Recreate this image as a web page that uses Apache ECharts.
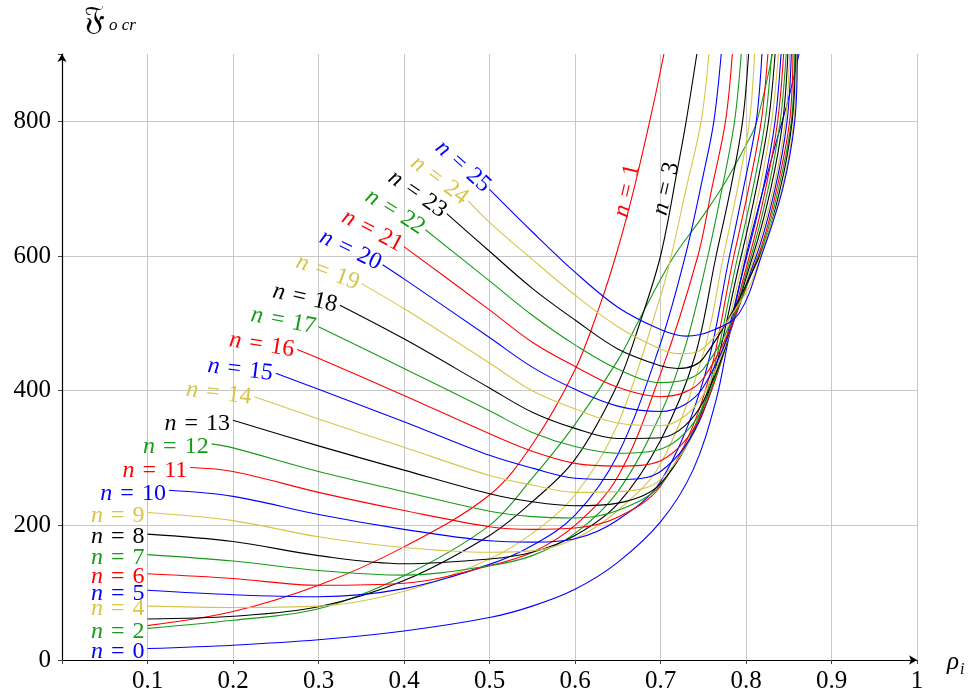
<!DOCTYPE html>
<html><head><meta charset="utf-8">
<script src="https://cdn.jsdelivr.net/npm/echarts@6/dist/echarts.min.js"></script>
<style>html,body{margin:0;padding:0;background:#fff}#c{width:976px;height:699px}</style>
</head><body><div id="c"></div>
<script>
// ---- data: [rho_i, F_ocr] pairs, one array per mode n ----
const n0  = [[0.1,17],[0.2,22],[0.3,30],[0.4,43],[0.5,63],[0.55,80],[0.6,105],[0.65,145],[0.7,205],[0.738,282],[0.765,386],[0.78,480],[0.8,600],[0.83,745],[0.85,835],[0.862,900]];
const n1  = [[0.1,51],[0.2,72],[0.3,111],[0.4,168],[0.5,245],[0.55,320],[0.6,431],[0.63,530],[0.65,610],[0.67,705],[0.69,815],[0.704,900]];
const n2  = [[0.1,47],[0.2,59],[0.3,76],[0.4,125],[0.5,200],[0.55,270],[0.6,350],[0.65,445],[0.675,505],[0.7,565],[0.718,604],[0.75,660],[0.775,708],[0.8,765],[0.812,797],[0.831,900]];
const n3  = [[0.1,61],[0.2,65],[0.3,79],[0.4,118],[0.5,185],[0.55,235],[0.6,298],[0.65,410],[0.677,505],[0.7,600],[0.72,730],[0.73,800],[0.7425,900]];
const n4  = [[0.1,80],[0.2,78],[0.3,80],[0.4,102],[0.5,150],[0.55,188],[0.6,245],[0.65,350],[0.7,540],[0.7125,600],[0.73,700],[0.7475,800],[0.7566,900]];
const n5  = [[0.1,103.5],[0.2,97],[0.3,94],[0.4,106],[0.5,142],[0.55,170],[0.6,215],[0.65,305],[0.7,470],[0.729,600],[0.75,720],[0.7624,800],[0.771,900]];
const n6  = [[0.1,128],[0.2,121],[0.3,111],[0.4,114],[0.5,140],[0.55,160],[0.6,200],[0.65,272],[0.7,425],[0.7437,600],[0.76,700],[0.776,800],[0.784,900]];
const n7  = [[0.1,156.5],[0.2,147],[0.3,133],[0.4,126],[0.5,140],[0.55,155],[0.6,188],[0.65,250],[0.7,365],[0.73,470],[0.7554,600],[0.772,700],[0.7866,800],[0.7944,900]];
const n8  = [[0.1,187],[0.2,176],[0.3,155],[0.4,143],[0.5,150],[0.55,160],[0.6,185],[0.65,232],[0.7,326],[0.74,450],[0.765,600],[0.782,700],[0.796,800],[0.803,900]];
const n9  = [[0.1,219],[0.2,207],[0.3,183],[0.4,167],[0.5,160],[0.55,162],[0.6,180],[0.65,222],[0.7,291],[0.75,455],[0.7737,600],[0.79,700],[0.804,800],[0.81,900]];
const n10 = [[0.125,252],[0.2,243],[0.3,216],[0.4,194],[0.5,177],[0.55,175],[0.6,180],[0.65,208],[0.7,265],[0.75,415],[0.7807,600],[0.797,700],[0.812,800],[0.8186,900]];
const n11 = [[0.15,286],[0.2,280],[0.3,249],[0.4,222],[0.5,198],[0.55,194],[0.6,196],[0.65,212],[0.7,258],[0.75,390],[0.7858,600],[0.803,700],[0.8178,800],[0.8256,900]];
const n12 = [[0.175,321],[0.2,315],[0.3,280],[0.4,250],[0.5,221],[0.55,213],[0.6,211],[0.65,222],[0.7,260],[0.75,380],[0.7905,600],[0.808,700],[0.8224,800],[0.83,900]];
const n13 = [[0.2,356],[0.3,318],[0.4,282],[0.5,247],[0.55,235],[0.6,229],[0.65,233],[0.7,262],[0.75,374],[0.7944,600],[0.812,700],[0.8263,800],[0.834,900]];
const n14 = [[0.225,391],[0.3,358],[0.4,316],[0.5,274],[0.55,260],[0.6,249],[0.65,250],[0.7,268],[0.75,370],[0.798,600],[0.816,700],[0.83,800],[0.838,900]];
const n15 = [[0.25,426],[0.3,402],[0.4,354],[0.5,304],[0.55,285],[0.6,270],[0.65,268],[0.7,280],[0.75,368],[0.801,600],[0.82,700],[0.834,800],[0.841,900]];
const n16 = [[0.275,461],[0.3,448],[0.4,393],[0.5,336],[0.55,310],[0.6,292],[0.65,288],[0.7,296],[0.75,370],[0.804,600],[0.823,700],[0.837,800],[0.844,900]];
const n17 = [[0.3,495],[0.4,433],[0.5,370],[0.55,338],[0.6,317],[0.65,307],[0.7,313],[0.75,376],[0.806,600],[0.826,700],[0.84,800],[0.847,900]];
const n18 = [[0.325,527],[0.4,477],[0.5,404],[0.55,368],[0.6,344],[0.65,329],[0.7,330],[0.75,384],[0.808,600],[0.829,700],[0.843,800],[0.849,900]];
const n19 = [[0.35,559],[0.4,522],[0.5,441],[0.55,400],[0.6,373],[0.65,352],[0.7,348],[0.75,394],[0.81,600],[0.832,700],[0.846,800],[0.851,900]];
const n20 = [[0.375,587],[0.4,566],[0.5,479],[0.55,435],[0.6,402],[0.65,377],[0.7,369],[0.75,405],[0.812,600],[0.834,700],[0.848,800],[0.853,900]];
const n21 = [[0.4,614],[0.5,520],[0.55,472],[0.6,436],[0.65,405],[0.7,391],[0.75,418],[0.814,600],[0.836,700],[0.851,800],[0.855,900]];
const n22 = [[0.425,639],[0.5,563],[0.55,512],[0.6,468],[0.65,432],[0.7,412],[0.75,432],[0.815,600],[0.838,700],[0.853,800],[0.857,900]];
const n23 = [[0.45,663],[0.5,607],[0.55,552],[0.6,505],[0.65,462],[0.7,437],[0.72,433],[0.75,448],[0.816,600],[0.84,700],[0.854,800],[0.858,900]];
const n24 = [[0.475,682],[0.5,650],[0.55,595],[0.6,542],[0.65,495],[0.7,462],[0.722,455],[0.75,463],[0.8,545],[0.817,600],[0.842,700],[0.856,800],[0.859,900]];
const n25 = [[0.5,699],[0.55,636],[0.6,576],[0.65,524],[0.7,491],[0.73,481],[0.76,489],[0.792,515],[0.818,600],[0.843,700],[0.857,800],[0.86,900]];

const curves = [n0,n1,n2,n3,n4,n5,n6,n7,n8,n9,n10,n11,n12,n13,n14,n15,n16,n17,n18,n19,n20,n21,n22,n23,n24,n25];

// ---- styling ----
const palette = ['#0000ff','#ff0000','#169b16','#000000','#d8c548'];
const labelTilt = {14:7,15:7,16:9,17:11,18:13,19:20,20:26,21:28,22:32,23:35,24:37,25:42}; // degrees, clockwise
const sideLabels = {1:{at:[0.661,697],rot:77}, 3:{at:[0.7067,700],rot:77}}; // labels beside steep curves
const FONT = "'Liberation Serif','Times New Roman',serif";
const LABEL_SIZE = 24;

const chart = echarts.init(document.getElementById('c'), null, {renderer:'canvas'});

const series = curves.map((c,n)=>({
  type:'line', name:'n = '+n, data:c, showSymbol:false, symbol:'none',
  smooth:0.35, clip:true, animation:false,
  lineStyle:{color:palette[n%5], width:1.1}, z: 2
}));

chart.setOption({
  animation:false,
  backgroundColor:'#fff',
  grid:{left:62, right:59, top:54, bottom:39, containLabel:false},
  xAxis:{type:'value', min:0, max:1, interval:0.1,
    axisLine:{show:true, onZero:false, symbol:['none','arrow'], symbolSize:[7,8], lineStyle:{color:'#000', width:1.2}},
    axisTick:{show:true, length:4, lineStyle:{color:'#444'}},
    axisLabel:{margin:9, color:'#000', fontFamily:FONT, fontSize:25,
      formatter:v=> (Math.abs(v)<1e-9 ? '' : (Math.abs(v-1)<1e-9 ? '1' : (+v).toFixed(1)))},
    splitLine:{show:true, showMinLine:false, lineStyle:{color:'#c8c8c8', width:1}}
  },
  yAxis:{type:'value', min:0, max:900, interval:200,
    axisLine:{show:true, onZero:false, symbol:['none','arrow'], symbolSize:[7,8], lineStyle:{color:'#000', width:1.2}},
    axisTick:{show:true, length:4, lineStyle:{color:'#444'}},
    axisLabel:{margin:11, color:'#000', fontFamily:FONT, fontSize:25,
      formatter:v=> (v>850 ? '' : String(Math.round(v)))},
    splitLine:{show:true, showMinLine:false, showMaxLine:false, lineStyle:{color:'#c8c8c8', width:1}}
  },
  series: series
});

// ---- curve labels placed from the library's own coordinate conversion ----
const els = [];
curves.forEach((c,n)=>{
  const col = palette[n%5];
  const rich = {i:{fontStyle:'italic', fontFamily:FONT, fontSize:LABEL_SIZE, fill:col}, r:{fontFamily:FONT, fontSize:LABEL_SIZE, fill:col}};
  const txt = '{i|n}{r|\u2004=\u2004'+n+'}';
  if (sideLabels[n]) {
    const s = sideLabels[n];
    const p = chart.convertToPixel({gridIndex:0}, s.at);
    els.push({type:'text', x:p[0], y:p[1], rotation:s.rot*Math.PI/180, z:10,
      style:{text:txt, rich:rich, align:'center', verticalAlign:'middle', fill:col, fontFamily:FONT, fontSize:LABEL_SIZE}});
    return;
  }
  const p = chart.convertToPixel({gridIndex:0}, c[0]);
  const a = (labelTilt[n]||0)*Math.PI/180;
  els.push({type:'text', x:p[0]-3*Math.cos(a), y:p[1]-3*Math.sin(a)+(a===0?3:1), rotation:-a, z:10,
    style:{text:txt, rich:rich, align:'right', verticalAlign:'middle', fill:col, fontFamily:FONT, fontSize:LABEL_SIZE}});
});
// axis titles
els.push({type:'text', x:84, y:20, z:10, style:{text:'\uD835\uDD09', fill:'#000', fontFamily:"'DejaVu Serif','DejaVu Sans','Noto Sans',serif", fontSize:33, align:'left', verticalAlign:'middle'}});
els.push({type:'text', x:109, y:26, z:10, style:{text:'o cr', fill:'#000', fontFamily:FONT, fontStyle:'italic', fontSize:17, align:'left', verticalAlign:'middle'}});
els.push({type:'text', x:947, y:662, z:10, style:{text:'\u03C1', fill:'#000', fontFamily:FONT, fontStyle:'italic', fontSize:25, align:'left', verticalAlign:'middle'}});
els.push({type:'text', x:960, y:670, z:10, style:{text:'i', fill:'#000', fontFamily:FONT, fontStyle:'italic', fontSize:16, align:'left', verticalAlign:'middle'}});
chart.setOption({graphic:{elements:els}});
</script></body></html>
